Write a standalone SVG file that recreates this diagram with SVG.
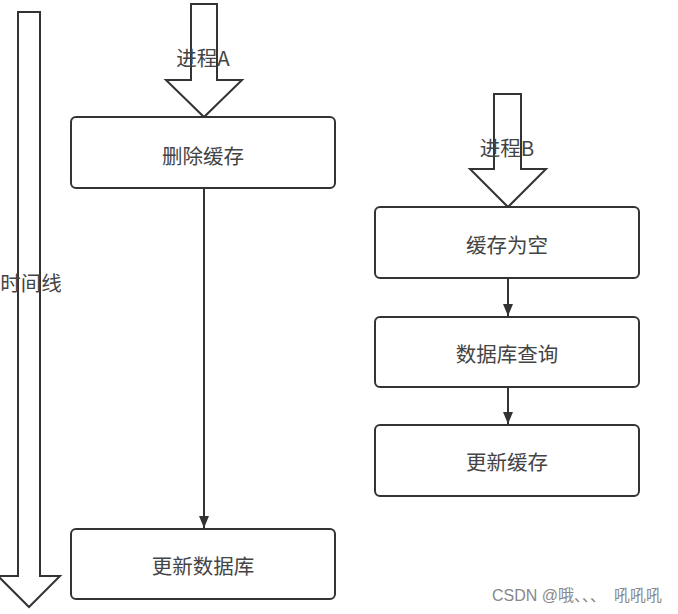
<svg xmlns="http://www.w3.org/2000/svg" width="678" height="614" viewBox="0 0 678 614">
<style>
.box{fill:#fff;stroke:#333;stroke-width:2}
.big{fill:#fff;stroke:#333;stroke-width:2;stroke-linejoin:miter}
.t{font-family:"Noto Sans CJK SC","Liberation Sans",sans-serif;font-size:20.5px;fill:#444;text-anchor:middle;dominant-baseline:central}
.edge{stroke:#333;stroke-width:2;fill:none}
.wm{font-family:"Liberation Sans","Noto Sans CJK SC",sans-serif;font-size:16px;fill:#888}
</style>
<defs>
<marker id="ah" markerWidth="10" markerHeight="12" refX="12" refY="5" orient="auto" markerUnits="userSpaceOnUse">
<path d="M0,0 L12,5 L0,10 Z" fill="#333"/>
</marker>
</defs>
<rect width="678" height="614" fill="#fff"/>
<g id="timeline">
<path class="big" d="M18,12 H40 V576 H60 L29,607 L-2,576 H18 Z"/>
<text class="t" x="31" y="282">时间线</text>
</g>
<g id="procA">
<path class="big" d="M191,4 H217 V80 H242 L204,117 L166,80 H191 Z"/>
<text class="t" x="203" y="57">进程A</text>
</g>
<g id="procB">
<path class="big" d="M494,94 H521 V169 H546 L508,207 L470,169 H494 Z"/>
<text class="t" x="507" y="147">进程B</text>
</g>
<g id="connectors">
<line class="edge" x1="204" y1="188" x2="204" y2="528" marker-end="url(#ah)"/>
<line class="edge" x1="508" y1="278" x2="508" y2="316" marker-end="url(#ah)"/>
<line class="edge" x1="508" y1="387" x2="508" y2="424" marker-end="url(#ah)"/>
</g>
<g id="n1">
<rect class="box" x="71" y="117" width="264" height="71" rx="5"/>
<text class="t" x="203" y="155">删除缓存</text>
</g>
<g id="n2">
<rect class="box" x="71" y="529" width="264" height="70" rx="5"/>
<text class="t" x="203" y="565">更新数据库</text>
</g>
<g id="n3">
<rect class="box" x="375" y="207" width="264" height="71" rx="5"/>
<text class="t" x="507" y="244">缓存为空</text>
</g>
<g id="n4">
<rect class="box" x="375" y="317" width="264" height="70" rx="5"/>
<text class="t" x="507" y="353">数据库查询</text>
</g>
<g id="n5">
<rect class="box" x="375" y="425" width="264" height="71" rx="5"/>
<text class="t" x="507" y="461">更新缓存</text>
</g>
<text class="wm" x="492" y="601">CSDN @哦、、、<tspan dx="8">吼吼吼</tspan></text>
</svg>
